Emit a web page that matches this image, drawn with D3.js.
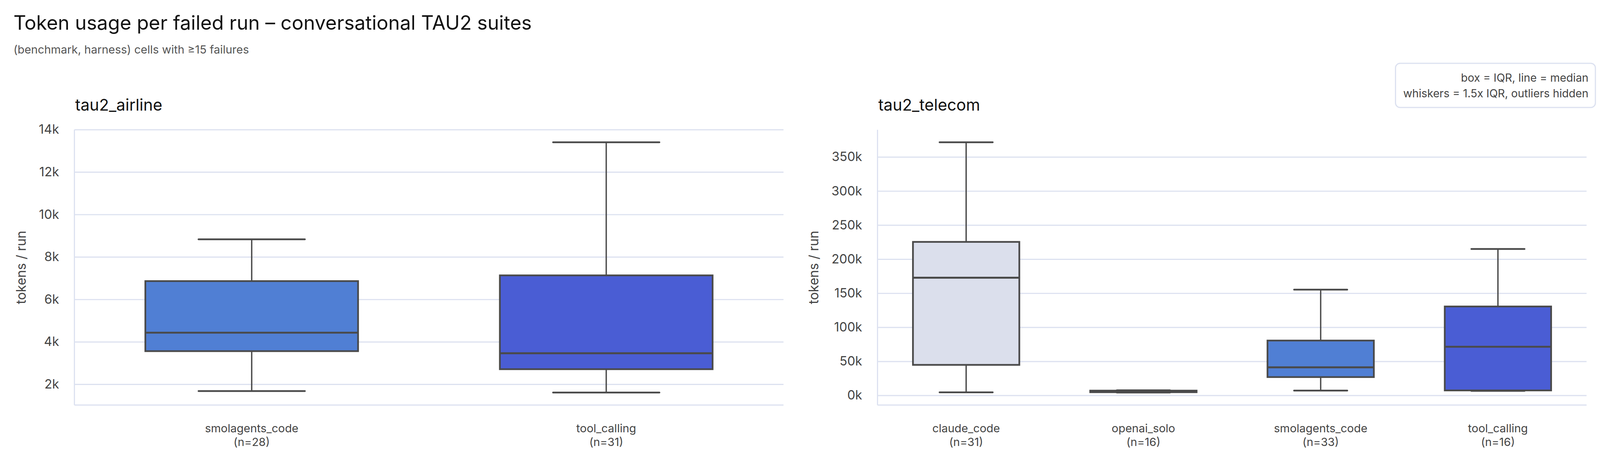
<!DOCTYPE html>
<html>
<head>
<meta charset="utf-8">
<script src="https://cdn.jsdelivr.net/npm/d3@7"></script>
<style>
  html, body { margin: 0; padding: 0; background: #fff; overflow: hidden; }
  svg { display: block; width: 100vw; height: 100vh; font-family: Inter, "DejaVu Sans", sans-serif; }
</style>
</head>
<body>
<script>
// five-number summaries per harness: [whisker low, q1, median, q3, whisker high]
const airlineHarnesses = ["smolagents_code", "tool_calling"];
const airlineCounts = [28, 31];
const airlineBoxes = [
    [1680, 3560, 4430, 6860, 8830],
    [1610, 2710, 3460, 7130, 13400]
];
const airlineTicks = [2000, 4000, 6000, 8000, 10000, 12000, 14000];

const telecomHarnesses = ["claude_code", "openai_solo", "smolagents_code", "tool_calling"];
const telecomCounts = [31, 16, 33, 16];
const telecomBoxes = [
    [4500, 44800, 172700, 225300, 371500],
    [4200, 4700, 5600, 7000, 7600],
    [7100, 26900, 41200, 80500, 155200],
    [6600, 7300, 71400, 130500, 214900]
];
const telecomTicks = [0, 50000, 100000, 150000, 200000, 250000, 300000, 350000];

const harnessColours = {
    claude_code: "#dbdfec",
    openai_solo: "#9aa5d9",
    smolagents_code: "#507fd4",
    tool_calling: "#4a5dd4"
};

const width = 4170, height = 1205;
const plotTop = 338, plotBottom = 1055;
const gridColour = "#dce1f0", inkColour = "#4a4a4a", textColour = "#444";

const svg = d3.select("body").append("svg")
    .attr("viewBox", `0 0 ${width} ${height}`)
    .attr("preserveAspectRatio", "xMinYMin meet");

svg.append("text")
    .attr("x", 35).attr("y", 77)
    .attr("font-size", 51)
    .attr("fill", "#111")
    .text("Token usage per failed run \u2013 conversational TAU2 suites");

svg.append("text")
    .attr("x", 35).attr("y", 139)
    .attr("font-size", 29.5)
    .attr("fill", "#555")
    .text("(benchmark, harness) cells with \u226515 failures");

function drawPanel(title, harnesses, counts, boxes, ticks, left, right) {
    const g = svg.append("g");

    const lo = d3.min(boxes, d => d[0]),
        hi = d3.max(boxes, d => d[4]),
        pad = 0.05 * (hi - lo);

    const x = d3.scaleBand().domain(harnesses).range([left, right]);
    const y = d3.scaleLinear().domain([lo - pad, hi + pad]).range([plotBottom, plotTop]);
    const bw = x.bandwidth();

    g.append("text")
        .attr("x", left + 2).attr("y", 288)
        .attr("font-size", 42)
        .attr("fill", "#111")
        .text(title);

    // gridlines + tick labels
    const yAxis = g.append("g")
        .attr("transform", `translate(${left},0)`)
        .call(d3.axisLeft(y).tickValues(ticks).tickSize(-(right - left)).tickPadding(40)
            .tickFormat(d => `${d / 1000}k`));
    yAxis.select(".domain").remove();
    yAxis.selectAll(".tick line")
        .attr("stroke", gridColour)
        .attr("stroke-width", 3);
    yAxis.selectAll(".tick text")
        .attr("font-size", 33)
        .attr("font-family", "Inter, sans-serif")
        .attr("fill", textColour);

    // spines
    g.append("line")
        .attr("x1", left).attr("x2", left)
        .attr("y1", plotTop).attr("y2", plotBottom)
        .attr("stroke", gridColour).attr("stroke-width", 3);
    g.append("line")
        .attr("x1", left).attr("x2", right)
        .attr("y1", plotBottom).attr("y2", plotBottom)
        .attr("stroke", gridColour).attr("stroke-width", 3);

    let labelLeft = left;
    yAxis.selectAll(".tick text").each(function () {
        labelLeft = Math.min(labelLeft, this.getBBox().x + left);
    });

    g.append("text")
        .attr("transform", `translate(${labelLeft - 34},${(plotTop + plotBottom) / 2}) rotate(-90)`)
        .attr("text-anchor", "middle")
        .attr("font-size", 34)
        .attr("fill", textColour)
        .text("tokens / run");

    const box = g.selectAll("g.box")
        .data(harnesses.map((h, i) => ({ h, n: counts[i], s: boxes[i] })))
        .enter().append("g")
        .attr("class", "box");

    const cx = d => x(d.h) + bw / 2;

    // whiskers
    box.append("line")
        .attr("x1", cx).attr("x2", cx)
        .attr("y1", d => y(d.s[3])).attr("y2", d => y(d.s[4]))
        .attr("stroke", inkColour).attr("stroke-width", 3.5);
    box.append("line")
        .attr("x1", cx).attr("x2", cx)
        .attr("y1", d => y(d.s[0])).attr("y2", d => y(d.s[1]))
        .attr("stroke", inkColour).attr("stroke-width", 3.5);
    [0, 4].forEach(k => {
        box.append("line")
            .attr("x1", d => cx(d) - bw * 0.15).attr("x2", d => cx(d) + bw * 0.15)
            .attr("y1", d => y(d.s[k])).attr("y2", d => y(d.s[k]))
            .attr("stroke", inkColour).attr("stroke-width", 4.5)
            .attr("stroke-linecap", "round");
    });

    box.append("rect")
        .attr("x", d => cx(d) - bw * 0.3)
        .attr("width", bw * 0.6)
        .attr("y", d => y(d.s[3]))
        .attr("height", d => y(d.s[1]) - y(d.s[3]))
        .attr("fill", d => harnessColours[d.h])
        .attr("stroke", inkColour).attr("stroke-width", 4.5);

    box.append("line")
        .attr("x1", d => cx(d) - bw * 0.3).attr("x2", d => cx(d) + bw * 0.3)
        .attr("y1", d => y(d.s[2])).attr("y2", d => y(d.s[2]))
        .attr("stroke", inkColour).attr("stroke-width", 5);

    // category labels
    const lab = box.append("text")
        .attr("text-anchor", "middle")
        .attr("font-size", 29.5)
        .attr("fill", textColour);
    lab.append("tspan").attr("x", cx).attr("y", 1126).text(d => d.h);
    lab.append("tspan").attr("x", cx).attr("y", 1162).text(d => `(n=${d.n})`);
}

drawPanel("tau2_airline", airlineHarnesses, airlineCounts, airlineBoxes, airlineTicks, 194, 2042);
drawPanel("tau2_telecom", telecomHarnesses, telecomCounts, telecomBoxes, telecomTicks, 2287, 4135);

// note box
const note = svg.append("g");
note.append("rect")
    .attr("x", 3637).attr("y", 165)
    .attr("width", 521).attr("height", 115)
    .attr("rx", 12)
    .attr("fill", "#fff")
    .attr("stroke", gridColour).attr("stroke-width", 3);
note.append("text")
    .attr("x", 4140).attr("y", 213)
    .attr("text-anchor", "end")
    .attr("font-size", 28.8).attr("fill", textColour)
    .text("box = IQR, line = median");
note.append("text")
    .attr("x", 4140).attr("y", 253)
    .attr("text-anchor", "end")
    .attr("font-size", 28.8).attr("fill", textColour)
    .text("whiskers = 1.5x IQR, outliers hidden");
</script>
</body>
</html>
